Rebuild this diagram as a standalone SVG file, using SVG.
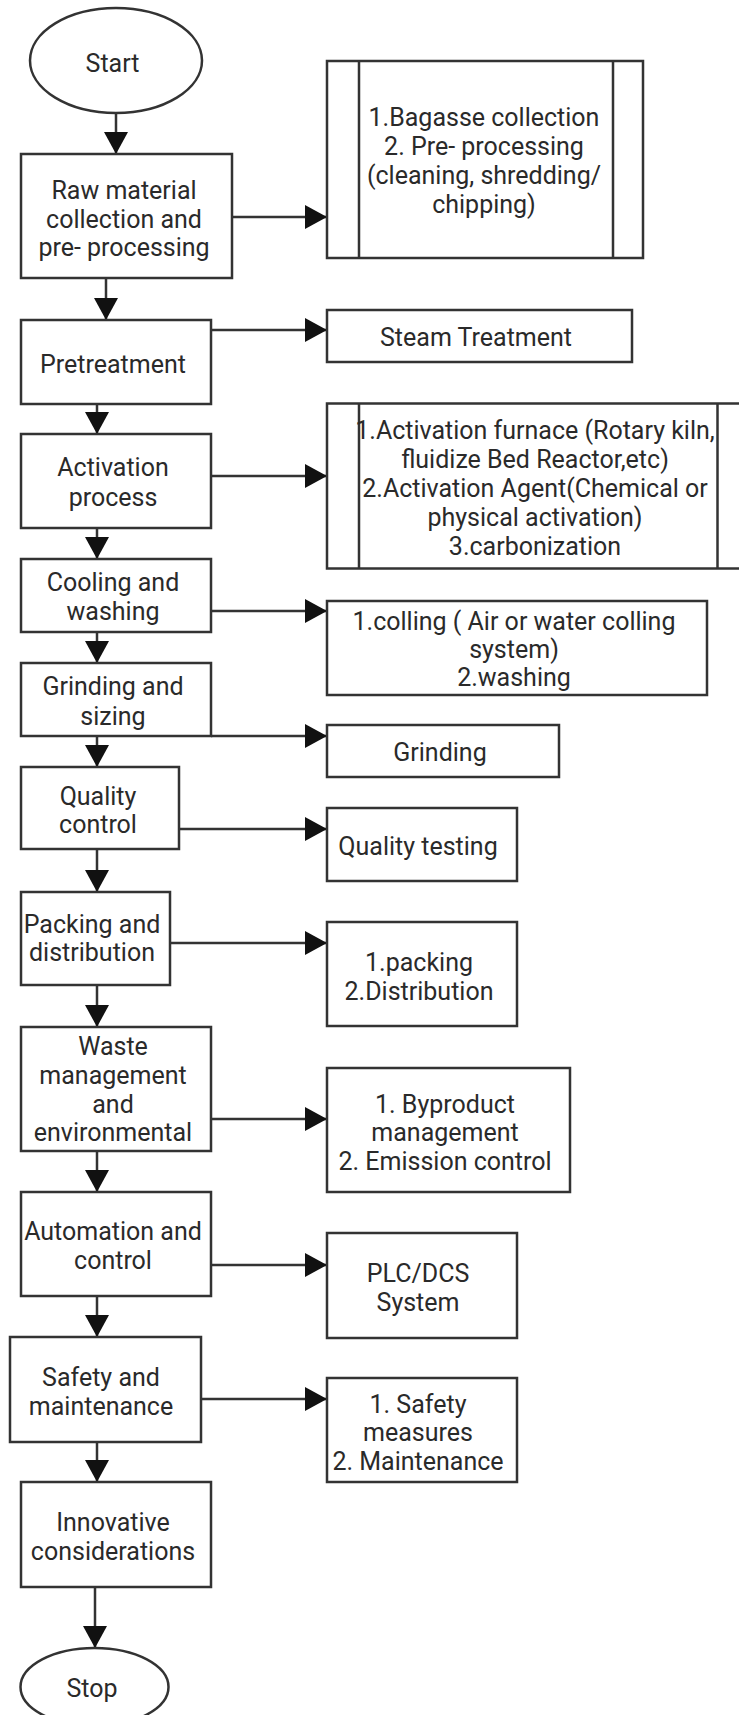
<svg xmlns="http://www.w3.org/2000/svg" width="739" height="1715" viewBox="0 0 739 1715">
<style>
.b{fill:#fff;stroke:#333;stroke-width:2.5}
.l{fill:none;stroke:#333;stroke-width:2.5}
.t{font-family:Roboto,"Liberation Sans",sans-serif;font-size:25px;fill:#2a2a2a;text-anchor:middle}
</style>
<defs>
<marker id="a" markerUnits="userSpaceOnUse" markerWidth="22" markerHeight="24" refX="22" refY="12" orient="auto">
<path d="M0,0 L22,12 L0,24 z" fill="#111"/>
</marker>
</defs>
<rect width="739" height="1715" fill="#fff"/>
<g id="connectors">
<path class="l" d="M116,113 V154" marker-end="url(#a)"/>
<path class="l" d="M232,217 H327" marker-end="url(#a)"/>
<path class="l" d="M106,278 V320" marker-end="url(#a)"/>
<path class="l" d="M211,330 H327" marker-end="url(#a)"/>
<path class="l" d="M97,404 V434" marker-end="url(#a)"/>
<path class="l" d="M211,476 H327" marker-end="url(#a)"/>
<path class="l" d="M97,528 V559" marker-end="url(#a)"/>
<path class="l" d="M211,611 H327" marker-end="url(#a)"/>
<path class="l" d="M97,632 V663" marker-end="url(#a)"/>
<path class="l" d="M211,736 H327" marker-end="url(#a)"/>
<path class="l" d="M97,736 V767" marker-end="url(#a)"/>
<path class="l" d="M179,829 H327" marker-end="url(#a)"/>
<path class="l" d="M97,849 V892" marker-end="url(#a)"/>
<path class="l" d="M170,943 H327" marker-end="url(#a)"/>
<path class="l" d="M97,985 V1027" marker-end="url(#a)"/>
<path class="l" d="M211,1119 H327" marker-end="url(#a)"/>
<path class="l" d="M97,1151 V1192" marker-end="url(#a)"/>
<path class="l" d="M211,1265 H327" marker-end="url(#a)"/>
<path class="l" d="M97,1296 V1337" marker-end="url(#a)"/>
<path class="l" d="M201,1399 H327" marker-end="url(#a)"/>
<path class="l" d="M97,1442 V1482" marker-end="url(#a)"/>
<path class="l" d="M95,1587 V1648" marker-end="url(#a)"/>
</g>
<g id="start">
<ellipse class="b" cx="116" cy="60.5" rx="86" ry="52.5"/>
<text class="t" x="112.5" y="72">Start</text>
</g>
<g id="raw">
<rect class="b" x="21" y="154" width="211" height="124"/>
<text class="t" x="124" y="199">Raw material</text>
<text class="t" x="124" y="227.5">collection and</text>
<text class="t" x="124" y="256">pre- processing</text>
</g>
<g id="raw-sub">
<rect class="b" x="327" y="61" width="316" height="197"/>
<path class="l" d="M359,61 V258 M613,61 V258"/>
<text class="t" x="484" y="126">1.Bagasse collection</text>
<text class="t" x="484" y="155">2. Pre- processing</text>
<text class="t" x="484" y="184">(cleaning, shredding/</text>
<text class="t" x="484" y="213">chipping)</text>
</g>
<g id="pretreatment">
<rect class="b" x="21" y="320" width="190" height="84"/>
<text class="t" x="113" y="373">Pretreatment</text>
</g>
<g id="steam">
<rect class="b" x="327" y="310" width="305" height="52"/>
<text class="t" x="476" y="346">Steam Treatment</text>
</g>
<g id="activation">
<rect class="b" x="21" y="434" width="190" height="94"/>
<text class="t" x="113" y="476">Activation</text>
<text class="t" x="113" y="506">process</text>
</g>
<g id="activation-sub">
<rect class="b" x="327" y="403.5" width="422" height="165"/>
<path class="l" d="M359,403.5 V568.5 M717.5,403.5 V568.5"/>
<text class="t" x="535" y="439">1.Activation furnace (Rotary kiln,</text>
<text class="t" x="535" y="468">fluidize Bed Reactor,etc)</text>
<text class="t" x="535" y="497">2.Activation Agent(Chemical or</text>
<text class="t" x="535" y="526">physical activation)</text>
<text class="t" x="535" y="555">3.carbonization</text>
</g>
<g id="cooling">
<rect class="b" x="21" y="559" width="190" height="73"/>
<text class="t" x="113" y="591">Cooling and</text>
<text class="t" x="113" y="620">washing</text>
</g>
<g id="cooling-sub">
<rect class="b" x="327" y="601" width="380" height="94"/>
<text class="t" x="514" y="630">1.colling ( Air or water colling</text>
<text class="t" x="514" y="658">system)</text>
<text class="t" x="514" y="686">2.washing</text>
</g>
<g id="grinding">
<rect class="b" x="21" y="663" width="190" height="73"/>
<text class="t" x="113" y="695">Grinding and</text>
<text class="t" x="113" y="725">sizing</text>
</g>
<g id="grinding-sub">
<rect class="b" x="327" y="725" width="232" height="52"/>
<text class="t" x="440" y="761">Grinding</text>
</g>
<g id="quality">
<rect class="b" x="21" y="767" width="158" height="82"/>
<text class="t" x="98" y="805">Quality</text>
<text class="t" x="98" y="833">control</text>
</g>
<g id="quality-sub">
<rect class="b" x="327" y="808" width="190" height="73"/>
<text class="t" x="418" y="855">Quality testing</text>
</g>
<g id="packing">
<rect class="b" x="21" y="892" width="149" height="93"/>
<text class="t" x="92" y="933">Packing and</text>
<text class="t" x="92" y="961">distribution</text>
</g>
<g id="packing-sub">
<rect class="b" x="327" y="922" width="190" height="104"/>
<text class="t" x="419" y="971">1.packing</text>
<text class="t" x="419" y="1000">2.Distribution</text>
</g>
<g id="waste">
<rect class="b" x="21" y="1027" width="190" height="124"/>
<text class="t" x="113" y="1055">Waste</text>
<text class="t" x="113" y="1084">management</text>
<text class="t" x="113" y="1113">and</text>
<text class="t" x="113" y="1141">environmental</text>
</g>
<g id="waste-sub">
<rect class="b" x="327" y="1068" width="243" height="124"/>
<text class="t" x="445" y="1113">1. Byproduct</text>
<text class="t" x="445" y="1141">management</text>
<text class="t" x="445" y="1170">2. Emission control</text>
</g>
<g id="automation">
<rect class="b" x="21" y="1192" width="190" height="104"/>
<text class="t" x="113" y="1240">Automation and</text>
<text class="t" x="113" y="1269">control</text>
</g>
<g id="automation-sub">
<rect class="b" x="327" y="1233" width="190" height="105"/>
<text class="t" x="418" y="1282">PLC/DCS</text>
<text class="t" x="418" y="1311">System</text>
</g>
<g id="safety">
<rect class="b" x="10" y="1337" width="191" height="105"/>
<text class="t" x="101" y="1386">Safety and</text>
<text class="t" x="101" y="1415">maintenance</text>
</g>
<g id="safety-sub">
<rect class="b" x="327" y="1378" width="190" height="104"/>
<text class="t" x="418" y="1413">1. Safety</text>
<text class="t" x="418" y="1441">measures</text>
<text class="t" x="418" y="1470">2. Maintenance</text>
</g>
<g id="innovative">
<rect class="b" x="21" y="1482" width="190" height="105"/>
<text class="t" x="113" y="1531">Innovative</text>
<text class="t" x="113" y="1560">considerations</text>
</g>
<g id="stop">
<ellipse class="b" cx="94.5" cy="1687" rx="74" ry="39"/>
<text class="t" x="92" y="1697">Stop</text>
</g>
</svg>
